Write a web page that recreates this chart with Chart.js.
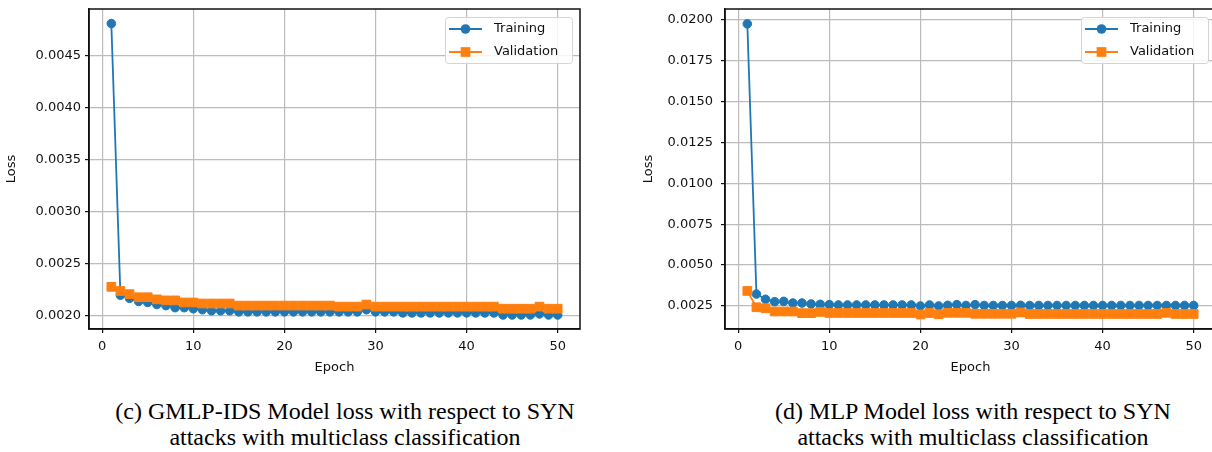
<!DOCTYPE html>
<html>
<head>
<meta charset="utf-8">
<script src="https://cdn.jsdelivr.net/npm/chart.js@4.4.0/dist/chart.umd.min.js"></script>
<style>
    body { margin: 0; width: 1212px; height: 452px; overflow: hidden; background: #fff; position: relative; }
    .plot { position: absolute; top: 0; height: 385px; }
    .cap { position: absolute; top: 398px; font-family: "Liberation Serif", "Times New Roman", serif; font-size: 24px; line-height: 26px; text-align: center; color: #000; }
</style>
</head>
<body>
<div class="plot" style="left:0;width:600px"><canvas id="gmlp_chart"></canvas></div>
<div class="plot" style="left:620px;width:620px"><canvas id="mlp_chart"></canvas></div>
<div class="cap" style="left:0;width:690px">(c) GMLP-IDS Model loss with respect to SYN<br>attacks with multiclass classification</div>
<div class="cap" style="left:606px;width:734px">(d) MLP Model loss with respect to SYN<br>attacks with multiclass classification</div>
<script>
var epochs = [1, 2, 3, 4, 5, 6, 7, 8, 9, 10, 11, 12, 13, 14, 15, 16, 17, 18, 19, 20,
    21, 22, 23, 24, 25, 26, 27, 28, 29, 30, 31, 32, 33, 34, 35, 36, 37, 38, 39, 40,
    41, 42, 43, 44, 45, 46, 47, 48, 49, 50];

var gmlpTraining = [0.00481, 0.00220, 0.00217, 0.00214, 0.00213, 0.00211, 0.00210, 0.00208, 0.00208, 0.00207,
    0.00206, 0.00205, 0.00205, 0.00205, 0.00204, 0.00204, 0.00204, 0.00204, 0.00204, 0.00204,
    0.00204, 0.00204, 0.00204, 0.00204, 0.00204, 0.00204, 0.00204, 0.00204, 0.00206, 0.00204,
    0.00204, 0.00204, 0.00203, 0.00203, 0.00203, 0.00203, 0.00203, 0.00203, 0.00203, 0.00203,
    0.00203, 0.00203, 0.00203, 0.00201, 0.00201, 0.00201, 0.00201, 0.00202, 0.00201, 0.00201];
var gmlpValidation = [0.00228, 0.00224, 0.00221, 0.00218, 0.00218, 0.00216, 0.00215, 0.00215, 0.00213, 0.00213,
    0.00212, 0.00212, 0.00212, 0.00212, 0.00210, 0.00210, 0.00210, 0.00210, 0.00210, 0.00210,
    0.00210, 0.00210, 0.00210, 0.00210, 0.00210, 0.00209, 0.00209, 0.00209, 0.00211, 0.00209,
    0.00209, 0.00209, 0.00209, 0.00209, 0.00209, 0.00209, 0.00209, 0.00209, 0.00209, 0.00209,
    0.00209, 0.00209, 0.00209, 0.00207, 0.00207, 0.00207, 0.00207, 0.00209, 0.00207, 0.00207];

var mlpTraining = [0.01976, 0.00323, 0.00291, 0.00276, 0.00278, 0.00268, 0.00268, 0.00262, 0.00260, 0.00258,
    0.00256, 0.00256, 0.00256, 0.00256, 0.00256, 0.00256, 0.00256, 0.00256, 0.00256, 0.00250,
    0.00256, 0.00250, 0.00254, 0.00258, 0.00253, 0.00258, 0.00253, 0.00253, 0.00253, 0.00253,
    0.00254, 0.00253, 0.00253, 0.00253, 0.00253, 0.00253, 0.00253, 0.00253, 0.00253, 0.00253,
    0.00253, 0.00253, 0.00253, 0.00253, 0.00253, 0.00253, 0.00253, 0.00253, 0.00253, 0.00253];
var mlpValidation = [0.00342, 0.00242, 0.00236, 0.00216, 0.00216, 0.00216, 0.00206, 0.00206, 0.00214, 0.00207,
    0.00207, 0.00207, 0.00207, 0.00207, 0.00207, 0.00207, 0.00207, 0.00207, 0.00207, 0.00198,
    0.00207, 0.00199, 0.00208, 0.00208, 0.00208, 0.00202, 0.00202, 0.00202, 0.00202, 0.00202,
    0.00210, 0.00201, 0.00201, 0.00201, 0.00201, 0.00201, 0.00201, 0.00201, 0.00201, 0.00201,
    0.00201, 0.00201, 0.00201, 0.00201, 0.00201, 0.00201, 0.00208, 0.00201, 0.00201, 0.00201];

var epochTicks = [0, 10, 20, 30, 40, 50];
var gmlpLossTicks = [0.0020, 0.0025, 0.0030, 0.0035, 0.0040, 0.0045];
var mlpLossTicks = [0.0025, 0.0050, 0.0075, 0.0100, 0.0125, 0.0150, 0.0175, 0.0200];

var BLUE = "#1f77b4";
var ORANGE = "#ff7f0e";
var TEXT = "#111";
var FONT = "DejaVu Sans";
var GRID = "#bcbcbc";

// spines on all four sides plus a matplotlib-like legend box
var framePlugin = {
    id: "frame",
    afterDatasetsDraw: function(chart) {
        var ctx = chart.ctx;
        var a = chart.chartArea;
        ctx.save();
        ctx.strokeStyle = "#111";
        ctx.lineWidth = 1.5;
        ctx.strokeRect(a.left, a.top, a.right - a.left, a.bottom - a.top);

        var x0 = a.right - 135;
        var y0 = a.top + 8;
        ctx.beginPath();
        ctx.roundRect(x0 + 0.5, y0 + 0.5, 127, 46, 3);
        ctx.fillStyle = "rgba(255,255,255,0.85)";
        ctx.fill();
        ctx.strokeStyle = "#d4d4d4";
        ctx.lineWidth = 1;
        ctx.stroke();

        chart.data.datasets.forEach(function(ds, i) {
            var y = y0 + 12 + i * 23;
            ctx.strokeStyle = ds.borderColor;
            ctx.lineWidth = 1.8;
            ctx.beginPath();
            ctx.moveTo(x0 + 4, y);
            ctx.lineTo(x0 + 37, y);
            ctx.stroke();
            ctx.fillStyle = ds.borderColor;
            if (ds.pointStyle === "rect") {
                ctx.fillRect(x0 + 20.5 - 4.85, y - 4.85, 9.7, 9.7);
            } else {
                ctx.beginPath();
                ctx.arc(x0 + 20.5, y, 4.8, 0, Math.PI * 2);
                ctx.fill();
            }
            ctx.fillStyle = TEXT;
            ctx.font = "13px '" + FONT + "'";
            ctx.textBaseline = "middle";
            ctx.textAlign = "left";
            ctx.fillText(ds.label, x0 + 49, y);
        });
        ctx.restore();
    }
};

function points(values) {
    return epochs.map(function(e, i) { return { x: e, y: values[i] }; });
}

function makeChart(id, training, validation, lossTicks, yMin, yMax, yWidth, yTitlePad, yTickPad, rightPad) {
    return new Chart(document.getElementById(id), {
        type: "line",
        data: {
            datasets: [{
                label: "Training",
                data: points(training),
                borderColor: BLUE,
                backgroundColor: BLUE,
                borderWidth: 1.8,
                pointStyle: "circle",
                pointRadius: 4.3,
                pointBorderWidth: 1,
                pointBackgroundColor: BLUE,
                pointBorderColor: BLUE,
                tension: 0,
                order: 1
            }, {
                label: "Validation",
                data: points(validation),
                borderColor: ORANGE,
                backgroundColor: ORANGE,
                borderWidth: 1.8,
                pointStyle: "rect",
                pointRadius: 6.15,
                pointBorderWidth: 1,
                pointBackgroundColor: ORANGE,
                pointBorderColor: ORANGE,
                tension: 0,
                order: 0
            }]
        },
        options: {
            responsive: true,
            maintainAspectRatio: false,
            animation: false,
            events: [],
            layout: { padding: { top: 9, right: rightPad, bottom: 0, left: 0 } },
            plugins: {
                legend: { display: false },
                tooltip: { enabled: false }
            },
            scales: {
                x: {
                    type: "linear",
                    min: -1.45,
                    max: 52.45,
                    afterBuildTicks: function(s) {
                        s.ticks = epochTicks.map(function(v) { return { value: v }; });
                    },
                    afterFit: function(s) {
                        s.height = 56;
                        s.paddingLeft = 0;
                        s.paddingRight = 0;
                    },
                    ticks: {
                        padding: 6,
                        color: TEXT,
                        font: { family: FONT, size: 13 },
                        maxRotation: 0
                    },
                    grid: { color: GRID, lineWidth: 1.2, tickLength: 4, tickColor: "#111", tickWidth: 1.2 },
                    border: { color: "#111", width: 1.5 },
                    title: {
                        display: true,
                        text: "Epoch",
                        color: TEXT,
                        font: { family: FONT, size: 13 },
                        padding: { top: 0, bottom: 10 }
                    }
                },
                y: {
                    type: "linear",
                    min: yMin,
                    max: yMax,
                    afterBuildTicks: function(s) {
                        s.ticks = lossTicks.map(function(v) { return { value: v }; });
                    },
                    afterFit: function(s) {
                        s.width = yWidth;
                        s.paddingTop = 0;
                        s.paddingBottom = 0;
                    },
                    ticks: {
                        padding: yTickPad,
                        color: TEXT,
                        font: { family: FONT, size: 13 },
                        callback: function(v) { return v.toFixed(4); }
                    },
                    grid: { color: GRID, lineWidth: 1.2, tickLength: 4, tickColor: "#111", tickWidth: 1.2 },
                    border: { color: "#111", width: 1.5 },
                    title: {
                        display: true,
                        text: "Loss",
                        color: TEXT,
                        font: { family: FONT, size: 13 },
                        padding: { top: yTitlePad, bottom: 0 }
                    }
                }
            }
        },
        plugins: [framePlugin]
    });
}

makeChart("gmlp_chart", gmlpTraining, gmlpValidation, gmlpLossTicks, 0.001875, 0.00495, 89, 4, 4, 20);
makeChart("mlp_chart", mlpTraining, mlpValidation, mlpLossTicks, 0.00109, 0.02067, 105, 21, 8, 24);
</script>
</body>
</html>
